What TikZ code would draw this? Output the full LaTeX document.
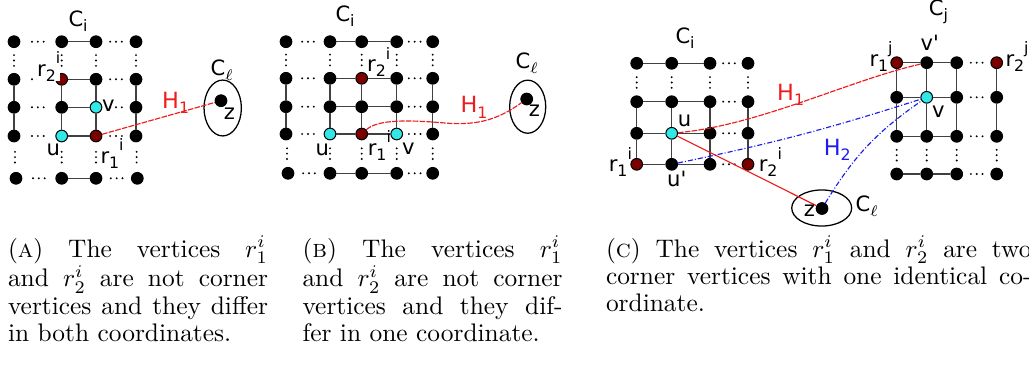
\documentclass[tikz,border=0pt]{standalone}
\usepackage{fontspec}
\newfontfamily\dv{DejaVu Sans}
\usetikzlibrary{shapes.geometric}
\definecolor{dred}{HTML}{7A0000}
\definecolor{cyn}{HTML}{30E8E8}
\definecolor{hred}{HTML}{EE1C1C}
\definecolor{hblue}{HTML}{1C1CEE}
\newcommand\lo[1]{\raisebox{-0.25em}{\fontsize{6.2pt}{6.2pt}\selectfont #1}}
\newcommand\hi[1]{\raisebox{0.6em}{\fontsize{6.2pt}{6.2pt}\selectfont #1}}
\tikzset{
  vx/.style={circle, inner sep=0pt, minimum size=4.6pt, fill=black, draw=black, line width=0.4pt},
  vcy/.style={vx, fill=cyn},
  vrd/.style={vx, fill=dred},
  ed/.style={draw=black!75, line width=0.55pt},
  hd/.style={inner sep=0pt, minimum width=7pt, minimum height=1.6pt,
    path picture={\foreach \k in {-1,0,1}{\fill[black] ([xshift=\k*2.3pt]path picture bounding box.center) circle[radius=0.42pt];}}},
  vd/.style={inner sep=0pt, minimum width=1.6pt, minimum height=7pt,
    path picture={\foreach \k in {-1,0,1}{\fill[black] ([yshift=\k*2.1pt]path picture bounding box.center) circle[radius=0.42pt];}}},
  lbl/.style={inner sep=0pt, anchor=base west, font={\dv\fontsize{8.3pt}{9pt}\selectfont}},
  hlbl/.style={lbl, font={\dv\fontsize{8.8pt}{9pt}\selectfont}},
  hone/.style={draw=hred, line width=0.45pt, dash pattern=on 2.2pt off 0.5pt},
  hsol/.style={draw=hred, line width=0.45pt},
  htwo/.style={draw=hblue, line width=0.45pt, dash pattern=on 2pt off 0.8pt on 0.4pt off 0.8pt},
  clus/.style={ellipse, draw=black, line width=0.5pt, inner sep=0pt},
  captxt/.style={inner sep=0pt, anchor=base west, font={\fontsize{10pt}{10.7pt}\selectfont}},
}
\begin{document}
\begin{tikzpicture}[x=0.3937pt, y=-0.3937pt]
\useasboundingbox (0,0) rectangle (1029,371);

% ---------------- Panel A ----------------
\node[vx] (a11) at (14,41.7) {};   \node[vx] (a12) at (61.7,41.7) {};  \node[vx] (a13) at (96,41.7) {};  \node[vx] (a14) at (136,41.7) {};
\node[vx] (a21) at (14,79.3) {};   \node[vrd] (a22) at (61.7,79.3) {}; \node[vx] (a23) at (96,79.3) {};  \node[vx] (a24) at (136,79.3) {};
\node[vx] (a31) at (14,107.3) {};  \node[vx] (a32) at (61.7,107.3) {}; \node[vcy] (a33) at (96,107.3) {}; \node[vx] (a34) at (136,107.3) {};
\node[vx] (a41) at (14,136) {};    \node[vcy] (a42) at (61.7,136) {};  \node[vrd] (a43) at (96,136) {};  \node[vx] (a44) at (136,136) {};
\node[vx] (a51) at (16,178.3) {};  \node[vx] (a52) at (61.7,178.3) {}; \node[vx] (a53) at (96,178.3) {}; \node[vx] (a54) at (137.3,178.3) {};
\foreach \p/\q in {a12/a13,a22/a23,a32/a33,a42/a43,a52/a53,a21/a31,a31/a41,a22/a32,a32/a42,a23/a33,a33/a43,a24/a34,a34/a44}
  \draw[ed] (\p) -- (\q);
\foreach \p/\q in {a11/a12,a13/a14,a21/a22,a23/a24,a31/a32,a33/a34,a41/a42,a43/a44,a51/a52,a53/a54}
  \path (\p) -- node[hd]{} (\q);
\foreach \p/\q in {a11/a21,a12/a22,a13/a23,a14/a24,a41/a51,a42/a52,a43/a53,a44/a54}
  \path (\p) -- node[vd]{} (\q);
\node[clus, minimum width=14.7pt, minimum height=22pt] (ella) at (222.7,108) {};
\node[vx] (za) at (221,100.7) {};
\draw[hone] (a43) -- (za);
\node[lbl] (lca) at (68,26.7) {C\lo{i}};
\node[lbl, fill=white] (lr2a) at (36.7,76) {r\lo{2}\hi{i}};
\node[lbl] (lva) at (101.7,111.7) {v};
\node[lbl] (lua) at (46,155) {u};
\node[lbl] (lr1a) at (100,163.3) {r\lo{1}\hi{i}};
\node[hlbl, text=hred] (lha) at (161.7,108.3) {H\lo{1}};
\node[lbl] (lcla) at (210,75) {C\lo{$\ell$}};
\node[lbl] (lza) at (223.3,119.3) {z};

% ---------------- Panel B ----------------
\node[vx] (b11) at (286,41.7) {};  \node[vx] (b12) at (330,41.7) {};  \node[vx] (b13) at (361.7,41.7) {};  \node[vx] (b14) at (396.7,41.7) {};  \node[vx] (b15) at (432.7,41.7) {};
\node[vx] (b21) at (286,78.3) {};  \node[vx] (b22) at (330,78.3) {};  \node[vrd] (b23) at (361.7,78.3) {}; \node[vx] (b24) at (396.7,78.3) {};  \node[vx] (b25) at (432.7,78.3) {};
\node[vx] (b31) at (286,106.7) {}; \node[vx] (b32) at (330,106.7) {}; \node[vx] (b33) at (361.7,106.7) {}; \node[vx] (b34) at (396.7,106.7) {}; \node[vx] (b35) at (432.7,106.7) {};
\node[vx] (b41) at (286,134) {};   \node[vcy] (b42) at (330,134) {};  \node[vrd] (b43) at (361.7,134) {};  \node[vcy] (b44) at (396.7,134) {}; \node[vx] (b45) at (432.7,134) {};
\node[vx] (b51) at (288,173.3) {}; \node[vx] (b52) at (330,173.3) {}; \node[vx] (b53) at (361.7,173.3) {}; \node[vx] (b54) at (396.7,173.3) {}; \node[vx] (b55) at (432.7,173.3) {};
\foreach \p/\q in {b12/b13,b13/b14,b22/b23,b23/b24,b32/b33,b33/b34,b42/b43,b43/b44,b52/b53,b53/b54,
                   b21/b31,b31/b41,b22/b32,b32/b42,b23/b33,b33/b43,b24/b34,b34/b44,b25/b35,b35/b45}
  \draw[ed] (\p) -- (\q);
\foreach \p/\q in {b11/b12,b14/b15,b21/b22,b24/b25,b31/b32,b34/b35,b41/b42,b44/b45,b51/b52,b54/b55}
  \path (\p) -- node[hd]{} (\q);
\foreach \p/\q in {b11/b21,b12/b22,b13/b23,b14/b24,b15/b25,b41/b51,b42/b52,b43/b53,b44/b54,b45/b55}
  \path (\p) -- node[vd]{} (\q);
\node[clus, minimum width=14.2pt, minimum height=20.9pt] (ellb) at (527.7,106.7) {};
\node[vx] (zb) at (526.7,99) {};
\coordinate (hbm) at (445,123);
\draw[hone] (b43) .. controls (378,119) and (410,120) .. (hbm) .. controls (480,126) and (500,118) .. (zb);
\node[lbl] (lcb) at (335,21.7) {C\lo{i}};
\node[lbl] (lr2b) at (366.7,71.7) {r\lo{2}\hi{i}};
\node[lbl] (lub) at (315,155) {u};
\node[lbl] (lr1b) at (367.3,155) {r\lo{1}\hi{i}};
\node[lbl] (lvb) at (401.7,154) {v};
\node[hlbl, text=hred] (lhb) at (460,112.7) {H\lo{1}};
\node[lbl] (lclb) at (515,68.3) {C\lo{$\ell$}};
\node[lbl] (lzb) at (528.3,116.7) {z};

% ---------------- Panel C ----------------
\node[vx] (c11) at (636.7,63.3) {};  \node[vx] (c12) at (671.7,63.3) {};  \node[vx] (c13) at (710,63.3) {};  \node[vx] (c14) at (748,63.3) {};
\node[vx] (c21) at (636.7,101.7) {}; \node[vx] (c22) at (671.7,101.7) {}; \node[vx] (c23) at (710,101.7) {}; \node[vx] (c24) at (748,101.7) {};
\node[vx] (c31) at (636.7,133.3) {}; \node[vcy] (c32) at (671.7,133.3) {}; \node[vx] (c33) at (710,133.3) {}; \node[vx] (c34) at (748,133.3) {};
\node[vrd] (c41) at (636.7,164.3) {}; \node[vx] (c42) at (671.7,164.3) {}; \node[vx] (c43) at (710,164.3) {}; \node[vrd] (c44) at (748,164.3) {};
\foreach \p/\q in {c11/c12,c12/c13,c21/c22,c22/c23,c31/c32,c32/c33,c41/c42,c42/c43,
                   c21/c31,c31/c41,c22/c32,c32/c42,c23/c33,c33/c43,c24/c34,c34/c44}
  \draw[ed] (\p) -- (\q);
\foreach \p/\q in {c13/c14,c23/c24,c33/c34,c43/c44}
  \path (\p) -- node[hd]{} (\q);
\foreach \p/\q in {c11/c21,c12/c22,c13/c23,c14/c24}
  \path (\p) -- node[vd]{} (\q);

\node[vrd] (d11) at (896.7,62.7) {}; \node[vx] (d12) at (926.7,62.7) {}; \node[vx] (d13) at (956.7,62.7) {}; \node[vrd] (d14) at (996.7,62.7) {};
\node[vx] (d21) at (896.7,97.3) {};  \node[vcy] (d22) at (926.7,97.3) {}; \node[vx] (d23) at (956.7,97.3) {}; \node[vx] (d24) at (996.7,97.3) {};
\node[vx] (d31) at (896.7,136.3) {}; \node[vx] (d32) at (926.7,136.3) {}; \node[vx] (d33) at (956.7,136.3) {}; \node[vx] (d34) at (996.7,136.3) {};
\node[vx] (d41) at (896.7,174) {};   \node[vx] (d42) at (926.7,174) {};   \node[vx] (d43) at (956.7,174) {};   \node[vx] (d44) at (996.7,174) {};
\foreach \p/\q in {d11/d12,d12/d13,d21/d22,d22/d23,d31/d32,d32/d33,d41/d42,d42/d43,
                   d11/d21,d21/d31,d12/d22,d22/d32,d13/d23,d23/d33,d14/d24,d24/d34}
  \draw[ed] (\p) -- (\q);
\foreach \p/\q in {d13/d14,d23/d24,d33/d34,d43/d44}
  \path (\p) -- node[hd]{} (\q);
\foreach \p/\q in {d31/d41,d32/d42,d33/d43,d34/d44}
  \path (\p) -- node[vd]{} (\q);

\node[clus, minimum width=23.6pt, minimum height=14.2pt] (ellc) at (821.7,208) {};
\node[vx] (zc) at (822,208.5) {};
\draw[hone] (c32) .. controls (760,125) and (850,80) .. (d12);
\draw[hsol] (c32) -- (zc);
\draw[htwo] (c42) to[bend right=3] (d22);
\draw[htwo] (zc) to[bend left=12] (d22);

\node[lbl] (lcic) at (675,43.3) {C\lo{i}};
\node[lbl] (lcjc) at (928.3,15) {C\lo{j}};
\node[lbl] (lr1c) at (608.3,171.7) {r\lo{1}\hi{i}};
\node[lbl] (luc) at (677.3,126) {u};
\node[lbl] (lupc) at (666.7,186.7) {u'};
\node[lbl] (lr2c) at (758.3,171.7) {r\lo{2}\hi{i}};
\node[lbl] (lvpc) at (920,50) {v'};
\node[lbl] (lr1j) at (869,66) {r\lo{1}\hi{j}};
\node[lbl] (lr2j) at (1005,66) {r\lo{2}\hi{j}};
\node[lbl] (lvc) at (931.7,117.3) {v};
\node[hlbl, text=hred] (lhc) at (776.7,100) {H\lo{1}};
\node[hlbl, text=hblue] (lh2c) at (823.3,155) {H\lo{2}};
\node[lbl] (lzc) at (803.3,216.7) {z};
\node[lbl] (lclc) at (855,211.7) {C\lo{$\ell$}};

% ---------------- Captions ----------------
\node[captxt] (capa) at (7.5,257) {\parbox[t]{102.4pt}{(\textsc{a})\ The vertices $r_1^i$\linebreak and $r_2^i$ are not corner\linebreak vertices and they differ\linebreak in both coordinates.}};
\node[captxt] (capb) at (302,257) {\parbox[t]{102.4pt}{(\textsc{b})\ The vertices $r_1^i$\linebreak and $r_2^i$ are not corner\linebreak vertices and they dif-\linebreak fer in one coordinate.}};
\node[captxt] (capc) at (605.5,257) {\parbox[t]{167.5pt}{(\textsc{c})\ The vertices $r_1^i$ and $r_2^i$ are two\linebreak corner vertices with one identical co-\linebreak ordinate.}};
\end{tikzpicture}
\end{document}
